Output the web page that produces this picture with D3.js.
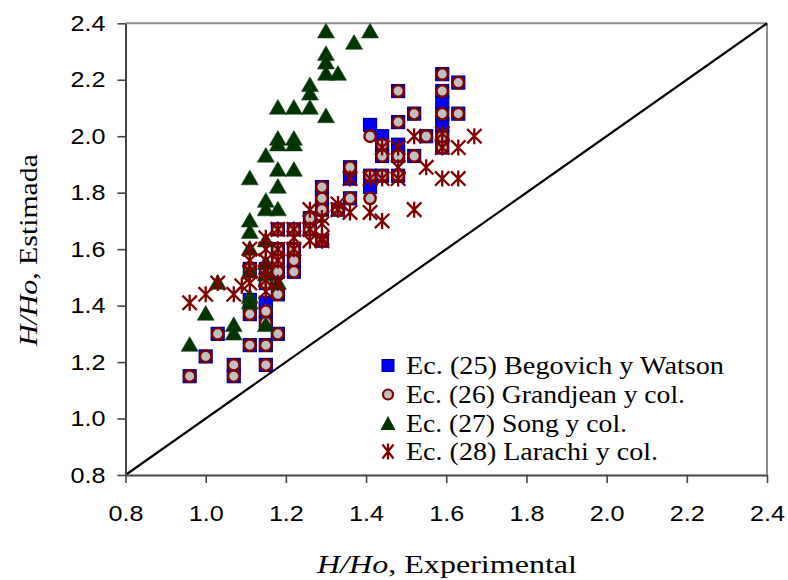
<!DOCTYPE html>
<html>
<head>
<meta charset="utf-8">
<script src="https://cdn.jsdelivr.net/npm/d3@7"></script>
<style>
  html, body { margin: 0; padding: 0; background: #fff; }
  svg { display: block; }
</style>
</head>
<body>
<svg id="chart" width="788" height="580"></svg>
<script>
// ---------- data ----------
const xTicks = [0.8, 1.0, 1.2, 1.4, 1.6, 1.8, 2.0, 2.2, 2.4];
const yTicks = [0.8, 1.0, 1.2, 1.4, 1.6, 1.8, 2.0, 2.2, 2.4];

const seriesNames = [
  "Ec. (25) Begovich y Watson",
  "Ec. (26) Grandjean y col.",
  "Ec. (27) Song y col.",
  "Ec. (28) Larachi y col."
];

const begovichX = [0.96,1.00,1.03,1.07,1.07,1.11,1.11,1.11,1.11,1.15,1.15,1.15,1.15,1.15,1.15,1.15,1.18,1.18,1.18,1.18,1.18,1.18,1.22,1.22,1.22,1.22,1.26,1.26,1.29,1.29,1.29,1.29,1.33,1.36,1.36,1.36,1.41,1.41,1.41,1.44,1.44,1.44,1.44,1.48,1.48,1.48,1.48,1.48,1.52,1.52,1.55,1.59,1.59,1.59,1.59,1.59,1.59,1.59,1.63,1.63];
const begovichY = [1.15,1.22,1.30,1.19,1.15,1.26,1.37,1.42,1.53,1.26,1.19,1.34,1.38,1.41,1.48,1.53,1.30,1.44,1.52,1.56,1.60,1.67,1.52,1.56,1.60,1.67,1.67,1.71,1.63,1.74,1.78,1.82,1.74,1.78,1.85,1.89,1.82,1.86,2.04,1.86,1.93,1.97,2.00,1.86,1.93,1.97,2.05,2.16,1.93,2.08,2.00,1.96,2.00,2.04,2.08,2.12,2.16,2.22,2.08,2.19];

const grandjeanX = [0.96,1.00,1.03,1.07,1.07,1.11,1.11,1.11,1.15,1.15,1.15,1.15,1.15,1.15,1.18,1.18,1.18,1.18,1.18,1.18,1.22,1.22,1.22,1.22,1.26,1.26,1.29,1.29,1.29,1.29,1.33,1.36,1.36,1.41,1.41,1.41,1.44,1.44,1.44,1.48,1.48,1.48,1.48,1.52,1.52,1.55,1.59,1.59,1.59,1.59,1.59,1.63,1.63];
const grandjeanY = [1.15,1.22,1.30,1.19,1.15,1.26,1.37,1.53,1.26,1.19,1.38,1.34,1.48,1.53,1.30,1.44,1.52,1.56,1.60,1.67,1.52,1.56,1.60,1.67,1.67,1.71,1.63,1.74,1.78,1.82,1.74,1.78,1.89,1.78,1.86,2.00,1.86,1.93,1.97,1.86,1.93,2.05,2.16,1.93,2.08,2.00,1.96,2.00,2.08,2.16,2.22,2.08,2.19];

const songX = [0.96,1.00,1.03,1.07,1.07,1.11,1.11,1.11,1.11,1.11,1.11,1.11,1.15,1.15,1.15,1.15,1.15,1.15,1.15,1.18,1.18,1.18,1.18,1.18,1.18,1.18,1.22,1.22,1.22,1.22,1.26,1.26,1.26,1.30,1.30,1.30,1.30,1.30,1.33,1.37,1.41];
const songY = [1.26,1.37,1.48,1.33,1.30,1.85,1.70,1.66,1.60,1.52,1.43,1.41,1.93,1.77,1.74,1.63,1.55,1.51,1.33,2.10,1.99,1.97,1.88,1.82,1.74,1.48,2.10,1.99,1.97,1.88,2.18,2.15,2.10,2.37,2.29,2.26,2.22,2.07,2.22,2.33,2.37];

const larachiX = [0.96,1.00,1.03,1.07,1.09,1.11,1.11,1.11,1.11,1.15,1.15,1.15,1.15,1.15,1.15,1.18,1.18,1.18,1.18,1.22,1.22,1.22,1.26,1.26,1.26,1.29,1.29,1.29,1.29,1.33,1.33,1.36,1.36,1.41,1.41,1.44,1.44,1.44,1.48,1.48,1.48,1.52,1.52,1.55,1.59,1.59,1.59,1.63,1.63,1.67];
const larachiY = [1.41,1.44,1.48,1.44,1.47,1.48,1.52,1.56,1.60,1.45,1.49,1.52,1.56,1.60,1.64,1.48,1.56,1.60,1.67,1.60,1.64,1.67,1.63,1.67,1.74,1.63,1.64,1.69,1.71,1.74,1.76,1.73,1.85,1.73,1.85,1.70,1.85,1.96,1.85,1.89,1.96,1.74,2.00,1.89,1.85,1.96,2.01,1.85,1.96,2.00];

// ---------- layout ----------
const svg = d3.select("#chart");
const plotL = 125.5, plotR = 767, plotT = 23.3, plotB = 475;
const x = d3.scaleLinear().domain([0.8, 2.4]).range([plotL, plotR]);
const y = d3.scaleLinear().domain([0.8, 2.4]).range([plotB, plotT]);

svg.append("rect").attr("width", 788).attr("height", 580).attr("fill", "#fff");

// plot area border (top/right gray)
svg.append("line").attr("x1", plotL).attr("x2", plotR).attr("y1", plotT).attr("y2", plotT)
  .attr("stroke", "#8c8c8c").attr("stroke-width", 2);
svg.append("line").attr("x1", plotR).attr("x2", plotR).attr("y1", plotT).attr("y2", plotB)
  .attr("stroke", "#8c8c8c").attr("stroke-width", 2);

// diagonal 1:1 line
svg.append("line")
  .attr("x1", x(0.8)).attr("y1", y(0.8)).attr("x2", x(2.4)).attr("y2", y(2.4))
  .attr("stroke", "#000").attr("stroke-width", 2.2);

// axes
const fmt = d3.format(".1f");
const gx = svg.append("g").attr("transform", `translate(0,${plotB})`)
  .call(d3.axisBottom(x).tickValues(xTicks).tickFormat(fmt).tickSize(8).tickSizeOuter(0).tickPadding(22));
const gy = svg.append("g").attr("transform", `translate(${plotL},0)`)
  .call(d3.axisLeft(y).tickValues(yTicks).tickFormat(fmt).tickSize(8).tickSizeOuter(0).tickPadding(12));

[gx, gy].forEach(g => {
  g.select(".domain").attr("stroke", "#444").attr("stroke-width", 2);
  g.selectAll(".tick line").attr("stroke", "#444").attr("stroke-width", 1.6);
  g.selectAll(".tick text")
    .attr("fill", "#000")
    .style("font-family", "'Liberation Sans', Arial, sans-serif")
    .style("font-size", "22px")
    .attr("textLength", 35)
    .attr("lengthAdjust", "spacingAndGlyphs");
});

// ---------- markers ----------
const sq = 13, cr = 5.7;
const triPath = "M0,-8.5 L8.5,6.2 L-8.5,6.2 Z";
const s = 7.2;
const starPath = `M${-s},${-s}L${s},${s}M${-s},${s}L${s},${-s}M0,${-s - 0.8}L0,${s + 0.8}`;

const zip = (xs, ys) => xs.map((v, i) => ({ x: v, y: ys[i] }));

const gPts = svg.append("g");
gPts.selectAll(".beg").data(zip(begovichX, begovichY)).join("rect")
  .attr("x", d => x(d.x) - sq / 2).attr("y", d => y(d.y) - sq / 2)
  .attr("width", sq).attr("height", sq)
  .attr("fill", "#0000ff").attr("stroke", "#000080").attr("stroke-width", 1.2);

gPts.selectAll(".gra").data(zip(grandjeanX, grandjeanY)).join("circle")
  .attr("cx", d => x(d.x)).attr("cy", d => y(d.y)).attr("r", cr)
  .attr("fill", "#c0c0c0").attr("stroke", "#800000").attr("stroke-width", 2.4);

gPts.selectAll(".song").data(zip(songX, songY)).join("path")
  .attr("transform", d => `translate(${x(d.x)},${y(d.y)})`)
  .attr("d", triPath).attr("fill", "#003300").attr("stroke", "#1e4a1e").attr("stroke-width", 0.6);

gPts.selectAll(".lar").data(zip(larachiX, larachiY)).join("path")
  .attr("transform", d => `translate(${x(d.x)},${y(d.y)})`)
  .attr("d", starPath).attr("fill", "none").attr("stroke", "#800000").attr("stroke-width", 2.3);

// ---------- legend ----------
const legX = 388, legTextX = 406;
const legBase = [374, 403, 431.5, 460];
const legWidths = [318, 279, 221, 252];
const lg = svg.append("g");
seriesNames.forEach((name, i) => {
  const cy = legBase[i] - 8.5;
  if (i === 0) {
    lg.append("rect").attr("x", legX - 6).attr("y", cy - 6).attr("width", 12).attr("height", 12)
      .attr("fill", "#0000ff").attr("stroke", "#000080").attr("stroke-width", 1);
  } else if (i === 1) {
    lg.append("circle").attr("cx", legX).attr("cy", cy).attr("r", 5)
      .attr("fill", "#c0c0c0").attr("stroke", "#800000").attr("stroke-width", 2.2);
  } else if (i === 2) {
    lg.append("path").attr("transform", `translate(${legX},${cy + 1})`)
      .attr("d", "M0,-8 L7.5,6 L-7.5,6 Z").attr("fill", "#003300");
  } else {
    lg.append("path").attr("transform", `translate(${legX},${cy})`)
      .attr("d", "M-5.5,-7L5.5,7M-5.5,7L5.5,-7M0,-8L0,8")
      .attr("fill", "none").attr("stroke", "#800000").attr("stroke-width", 2.2);
  }
  lg.append("text").attr("x", legTextX).attr("y", legBase[i])
    .style("font-family", "'Liberation Serif', 'Times New Roman', serif")
    .style("font-size", "25px")
    .attr("textLength", legWidths[i]).attr("lengthAdjust", "spacingAndGlyphs")
    .text(name);
});

// ---------- axis titles ----------
const xt = svg.append("text").attr("x", 317).attr("y", 573)
  .style("font-family", "'Liberation Serif', 'Times New Roman', serif")
  .style("font-size", "26px")
  .attr("textLength", 260).attr("lengthAdjust", "spacingAndGlyphs");
xt.append("tspan").style("font-style", "italic").text("H/Ho");
xt.append("tspan").text(", Experimental");

const yt = svg.append("text")
  .attr("transform", "translate(37,346) rotate(-90)")
  .style("font-family", "'Liberation Serif', 'Times New Roman', serif")
  .style("font-size", "26px")
  .attr("textLength", 192).attr("lengthAdjust", "spacingAndGlyphs");
yt.append("tspan").style("font-style", "italic").text("H/Ho");
yt.append("tspan").text(", Estimada");
</script>
</body>
</html>
